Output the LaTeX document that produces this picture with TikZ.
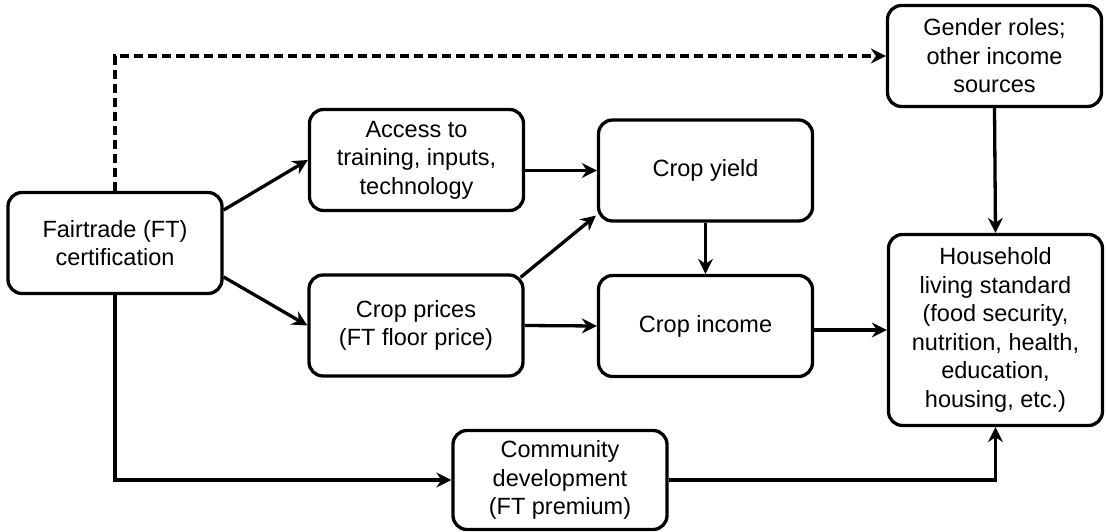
\documentclass[tikz,border=0pt]{standalone}
\usepackage{fontspec}
\setmainfont{Liberation Sans}
\usetikzlibrary{arrows.meta,calc}
\begin{document}
\begin{tikzpicture}[x=1bp,y=-1bp,
  box/.style={draw=black, line width=3.3bp, rounded corners=14bp, fill=white,
    minimum width=214bp, minimum height=101bp, align=center, inner sep=2bp,
    font=\fontsize{23.5bp}{28.5bp}\selectfont},
  conn/.style={line width=3.3bp, -{Stealth[length=15bp,width=15bp,inset=5bp]}},
  dconn/.style={conn, dash pattern=on 9bp off 5bp}
]
\useasboundingbox (0,0) rectangle (1106,532);
\node[box] (ft) at (115,243) {Fairtrade (FT)\\certification};
\node[box] (access) at (416.5,160) {Access to\\training, inputs,\\technology};
\node[box] (prices) at (416,325.5) {Crop prices\\(FT floor price)};
\node[box] (yield) at (705.5,170.5) {Crop yield};
\node[box] (income) at (705.5,326) {Crop income};
\node[box] (gender) at (994.5,56) {Gender roles;\\other income\\sources};
\node[box, minimum height=191bp] (household) at (995.5,330) {Household\\living standard\\(food security,\\nutrition, health,\\education,\\housing, etc.)};
\node[box, minimum height=99bp] (community) at (560,480) {Community\\development\\(FT premium)};

\draw[dconn] (ft.north) |- (gender.west);
\draw[conn] ($(ft.east)+(0,-33)$) -- (access.west);
\draw[conn] ($(ft.east)+(0,34)$) -- (prices.west);
\draw[conn] (access.east |- yield.west) -- (yield.west);
\draw[conn] ($(prices.north east)+(-4,4)$) -- ($(yield.south west)+(-1,-7)$);
\draw[conn] (yield.south) -- (income.north);
\draw[conn] (prices.east) -- (income.west);
\draw[conn] (income.east |- household.west) -- (household.west);
\draw[conn] (gender.south) -- (household.north);
\draw[conn] (ft.south) |- (community.west);
\draw[conn] (community.east) -| (household.south);
\end{tikzpicture}
\end{document}
